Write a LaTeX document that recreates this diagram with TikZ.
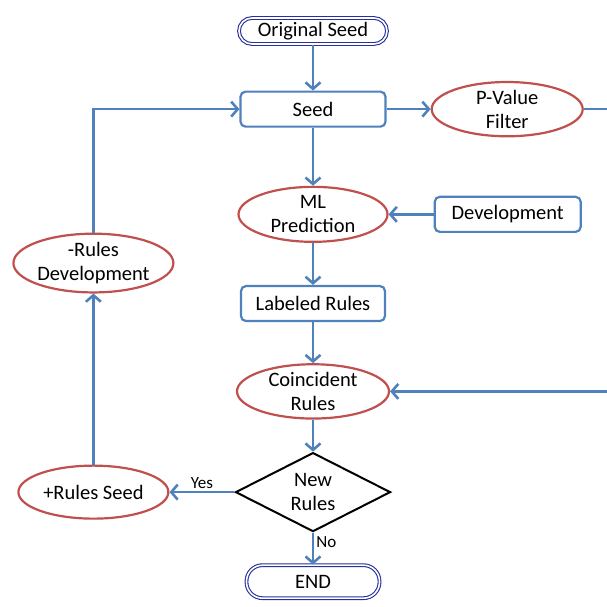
\documentclass[tikz,border=0pt]{standalone}
\usepackage{fontspec}
\setmainfont{Carlito}
\usetikzlibrary{shapes.geometric, arrows.meta, positioning}
\definecolor{flowblue}{HTML}{4F81BD}
\definecolor{flowred}{HTML}{C0504D}
\definecolor{flownavy}{HTML}{28309A}

\begin{document}
\begin{tikzpicture}[
    font=\fontsize{20.5}{24}\selectfont,
    terminal/.style={
        draw=flownavy, line width=1.1pt, double=white, double distance=1.6pt,
        rectangle, rounded corners=13pt,
        minimum width=#1, minimum height=26pt, inner sep=0pt,
    },
    procbox/.style={
        draw=flowblue, line width=2.2pt, fill=white,
        rectangle, rounded corners=5pt,
        minimum width=#1, minimum height=35pt, inner sep=0pt,
    },
    oval/.style 2 args={
        draw=flowred, line width=2.2pt,
        ellipse, align=center, inner sep=0pt,
        minimum width=#1, minimum height=#2,
    },
    decision/.style={
        draw=black, line width=2pt,
        diamond, aspect=1.96, align=center, inner sep=0pt,
        minimum width=155pt, minimum height=79pt,
    },
    flow/.style={
        draw=flowblue, line width=2.6pt,
        -{Straight Barb[length=6.5pt,width=15pt]},
    },
    answer/.style={font=\fontsize{17}{19}\selectfont, inner sep=2pt},
]

\useasboundingbox (0,0) rectangle (607pt,606pt);
\clip (0,0) rectangle (607pt,606pt);

% main column
\node[terminal=148pt] (orig) at (313pt,575pt) {Original Seed};
\node[procbox=145pt, below=46pt of orig] (seed) {Seed};
\node[oval={149pt}{55pt}, below=58pt of seed] (ml) {ML\\Prediction};
\node[procbox=144pt, below=42pt of ml] (labeled) {Labeled Rules};
\node[oval={152pt}{51pt}, below=41pt of labeled] (coinc) {Coincident\\Rules};
\node[decision, below=32pt of coinc] (newrules) {New\\Rules};
\node[terminal=133pt, minimum height=33pt, rounded corners=16pt, below=32pt of newrules] (end) {END};

% side nodes
\node[oval={151pt}{53pt}, right=44pt of seed] (pval) {P-Value\\Filter};
\node[procbox=146pt, right=45pt of ml] (dev) {Development};
\node[oval={150pt}{53pt}, left=65pt of newrules] (plus) {+Rules Seed};
\node[oval={160pt}{58pt}, above=171pt of plus] (minus) {-Rules\\Development};

\draw[flow] (orig) -- (seed);
\draw[flow] (seed) -- (ml);
\draw[flow] (seed) -- (pval);
\draw[flow] (dev) -- (ml);
\draw[flow] (ml) -- (labeled);
\draw[flow] (labeled) -- (coinc);
\draw[flow] (coinc) -- (newrules);
\draw[flow] (newrules) -- node[answer, above] {Yes} (plus);
\draw[flow] (newrules) -- node[answer, pos=0.3, right] {No} (end);
\draw[flow] (plus) -- (minus);
\draw[flow] (minus.north) |- (seed.west);
\draw[flow] (pval.east) -- ++(30pt,0) |- (coinc.east);

\end{tikzpicture}
\end{document}
